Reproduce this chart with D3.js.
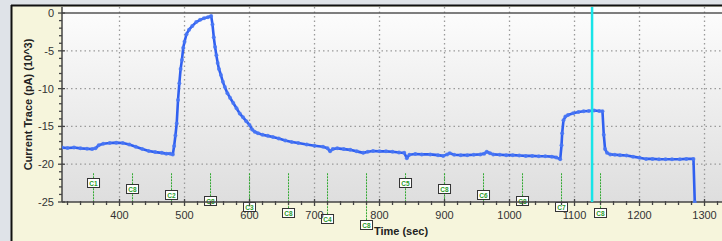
<!DOCTYPE html>
<html><head><meta charset="utf-8">
<script src="https://cdn.jsdelivr.net/npm/d3@7"></script>
<style>
html,body{margin:0;padding:0;background:#dfe3e8;}
svg{display:block;font-family:"Liberation Sans",Arial,sans-serif;}
</style></head>
<body>
<svg id="c" width="722" height="241"></svg>
<script>
// ---- data ----
const times = [311,320,330,340,350,358,363,368,375,385,395,405,415,425,435,445,455,465,472,478,482,
484,486,488,490,492,494,496,498,500,503,507,512,518,524,530,536,541,
543,545,547,549,551,553,556,559,562,566,570,575,580,585,590,595,600,604,608,613,620,628,636,645,655,665,675,688,700,713,
720,724,728,735,745,755,765,775,782,790,800,810,820,830,838,842,846,855,865,878,890,898,904,908,915,925,935,945,955,961,965,970,975,985,995,
1005,1015,1025,1035,1045,1055,1065,1072,1078,1080,1081,1083,1086,1090,1098,1106,1114,1122,1130,1138,1143,1145,1147,1150,1155,1162,1170,1180,1190,
1200,1210,1220,1230,1240,1250,1262,1272,1283,1285];
const current = [-17.8,-17.85,-17.8,-17.9,-17.95,-18.0,-17.9,-17.5,-17.3,-17.2,-17.15,-17.2,-17.4,-17.7,-18.0,-18.25,-18.4,-18.5,-18.6,-18.6,-18.7,
-17.6,-16.2,-14.6,-11.5,-9.3,-7.4,-6.2,-4.6,-3.8,-2.8,-2.2,-1.7,-1.2,-0.9,-0.7,-0.55,-0.4,
-1.5,-3.2,-4.5,-5.6,-6.6,-7.4,-8.2,-9.1,-9.8,-10.6,-11.2,-11.9,-12.6,-13.3,-13.8,-14.3,-14.8,-15.4,-15.7,-15.9,-16.1,-16.25,-16.4,-16.6,-16.85,-17.05,-17.2,-17.4,-17.55,-17.7,
-17.9,-18.3,-18.0,-17.9,-18.0,-18.1,-18.3,-18.5,-18.35,-18.25,-18.3,-18.3,-18.35,-18.45,-18.5,-19.2,-18.75,-18.65,-18.7,-18.7,-18.8,-18.9,-18.7,-18.55,-18.75,-18.8,-18.8,-18.75,-18.7,-18.6,-18.35,-18.55,-18.7,-18.75,-18.8,
-18.8,-18.85,-18.9,-18.9,-18.95,-18.95,-19.0,-19.1,-19.35,-17.5,-15.9,-14.2,-13.7,-13.5,-13.25,-13.1,-13.0,-12.95,-12.9,-12.95,-13.0,-16.1,-18.0,-18.5,-18.7,-18.75,-18.8,-18.85,-19.0,
-19.15,-19.3,-19.3,-19.35,-19.35,-19.35,-19.35,-19.3,-19.3,-25];
const markerTimes = [360,420,480,540,600,660,720,780,840,900,960,1020,1080,1140];
const markerLabels = ["C1","C8","C2","C8","C3","C8","C4","C8","C5","C8","C6","C8","C7","C8"];
const cursorTime = [1127];
const xTicks = [400,500,600,700,800,900,1000,1100,1200,1300];
const yTicks = [0,-5,-10,-15,-20,-25];
const xTitle = "Time (sec)";
const yTitle = "Current Trace (pA) (10^3)";

// ---- layout ----
const svg = d3.select("#c");
const L = 62, R = 722, T = 7, B = 202;
const x = d3.scaleLinear().domain([311.5, 1326.9]).range([L, R]);
const y = d3.scaleLinear().domain([-25, 0.8]).range([B, T]);

// frame
svg.append("rect").attr("x",0).attr("y",0).attr("width",722).attr("height",241).attr("fill","#dfe3e8");
svg.append("rect").attr("x",12).attr("y",6).attr("width",710).attr("height",235).attr("fill","#f6f5dc");
svg.append("line").attr("x1",11.5).attr("x2",11.5).attr("y1",5).attr("y2",241).attr("stroke","#111").attr("stroke-width",2);
svg.append("line").attr("x1",11).attr("x2",722).attr("y1",5.5).attr("y2",5.5).attr("stroke","#111").attr("stroke-width",2);

// plot background gradient
const defs = svg.append("defs");
const g = defs.append("linearGradient").attr("id","bg").attr("x1",0).attr("y1",0).attr("x2",0).attr("y2",1);
g.append("stop").attr("offset","0%").attr("stop-color","#fdfdfd");
g.append("stop").attr("offset","100%").attr("stop-color","#dedede");
svg.append("rect").attr("x",L).attr("y",T).attr("width",R-L).attr("height",B-T).attr("fill","url(#bg)");
defs.append("clipPath").attr("id","clip").append("rect").attr("x",L).attr("y",T-1).attr("width",R-L).attr("height",B-T+2);

// grid
const grid = svg.append("g");
grid.selectAll(".vg").data(xTicks).join("line")
  .attr("x1",d=>x(d)).attr("x2",d=>x(d)).attr("y1",T).attr("y2",B)
  .attr("stroke","#9a9a9a").attr("stroke-width",1.3).attr("stroke-dasharray","1.5,3");
grid.selectAll(".hg").data(yTicks.filter(d=>d!==-25)).join("line")
  .attr("x1",L).attr("x2",R).attr("y1",d=>y(d)).attr("y2",d=>y(d))
  .attr("stroke",d=>d===0?"#555":"#9a9a9a").attr("stroke-width",d=>d===0?1.5:1.3)
  .attr("stroke-dasharray",d=>d===0?null:"1.5,3");

// event markers
const lineTop = y(-21.2);
const mk = svg.append("g");
markerTimes.forEach((t,i)=>{
  const level = i < 8 ? i : i-8;
  const by = 183 + level*6;
  const bx = x(t);
  mk.append("line").attr("x1",bx).attr("x2",bx).attr("y1",lineTop).attr("y2",Math.max(B,by))
    .attr("stroke","#2fa82f").attr("stroke-width",1).attr("stroke-dasharray","2,1");
  mk.append("rect").attr("x",bx-6).attr("y",by-4.5).attr("width",12).attr("height",9)
    .attr("fill","#fff").attr("stroke","#333").attr("stroke-width",1);
  mk.append("text").attr("x",bx).attr("y",by+2.5).attr("text-anchor","middle")
    .attr("font-size",6.5).attr("font-weight","bold").attr("fill","#2a9a2a").text(markerLabels[i]);
});

// axes
const ax = svg.append("g");
ax.append("line").attr("x1",L).attr("x2",R).attr("y1",B).attr("y2",B).attr("stroke","#444").attr("stroke-width",1.5);
ax.append("line").attr("x1",L).attr("x2",L).attr("y1",T).attr("y2",B).attr("stroke","#444").attr("stroke-width",1.5);
// x ticks (minor every 20)
const xMinor = d3.range(320, 1327, 20);
ax.selectAll(".xm").data(xMinor).join("line")
  .attr("x1",d=>x(d)).attr("x2",d=>x(d))
  .attr("y1",d=>d%100===0?B-3:B-1).attr("y2",d=>d%100===0?B+4:B+3)
  .attr("stroke","#444").attr("stroke-width",1.3);
ax.selectAll(".xl").data(xTicks).join("text")
  .attr("x",d=>x(d)).attr("y",219).attr("text-anchor","middle")
  .attr("font-size",11).attr("fill","#333").text(d=>d);
// y ticks (minor every 1)
const yMinor = d3.range(-25, 1, 1);
ax.selectAll(".ym").data(yMinor).join("line")
  .attr("x1",d=>d%5===0?L-4:L-3).attr("x2",d=>d%5===0?L+3:L)
  .attr("y1",d=>y(d)).attr("y2",d=>y(d))
  .attr("stroke","#444").attr("stroke-width",1.3);
ax.selectAll(".yl").data(yTicks).join("text")
  .attr("x",54).attr("y",d=>y(d)+4).attr("text-anchor","end")
  .attr("font-size",11).attr("fill","#333").text(d=>d);

// titles
svg.append("text").attr("x",401).attr("y",235).attr("text-anchor","middle")
  .attr("font-size",11).attr("font-weight","bold").attr("fill","#222").text(xTitle);
svg.append("text").attr("transform","translate(32,"+((T+B)/2)+") rotate(-90)")
  .attr("text-anchor","middle").attr("font-size",11).attr("font-weight","bold").attr("fill","#222").text(yTitle);

// data trace
const pts = times.map((t,i)=>[t,current[i]]);
const tr = svg.append("g").attr("clip-path","url(#clip)");
tr.append("path").datum(pts)
  .attr("d", d3.line().x(d=>x(d[0])).y(d=>y(d[1])))
  .attr("fill","none").attr("stroke","#3060f0").attr("stroke-width",2.6).attr("stroke-linejoin","round");
tr.selectAll("circle").data(pts).join("circle")
  .attr("cx",d=>x(d[0])).attr("cy",d=>y(d[1])).attr("r",2)
  .attr("fill","#4a78f5").attr("fill-opacity",0.85);

// cursor
svg.selectAll(".cur").data(cursorTime).join("line")
  .attr("x1",d=>x(d)).attr("x2",d=>x(d)).attr("y1",T).attr("y2",B)
  .attr("stroke","#18e4e8").attr("stroke-width",2.5);
</script>
</body></html>
